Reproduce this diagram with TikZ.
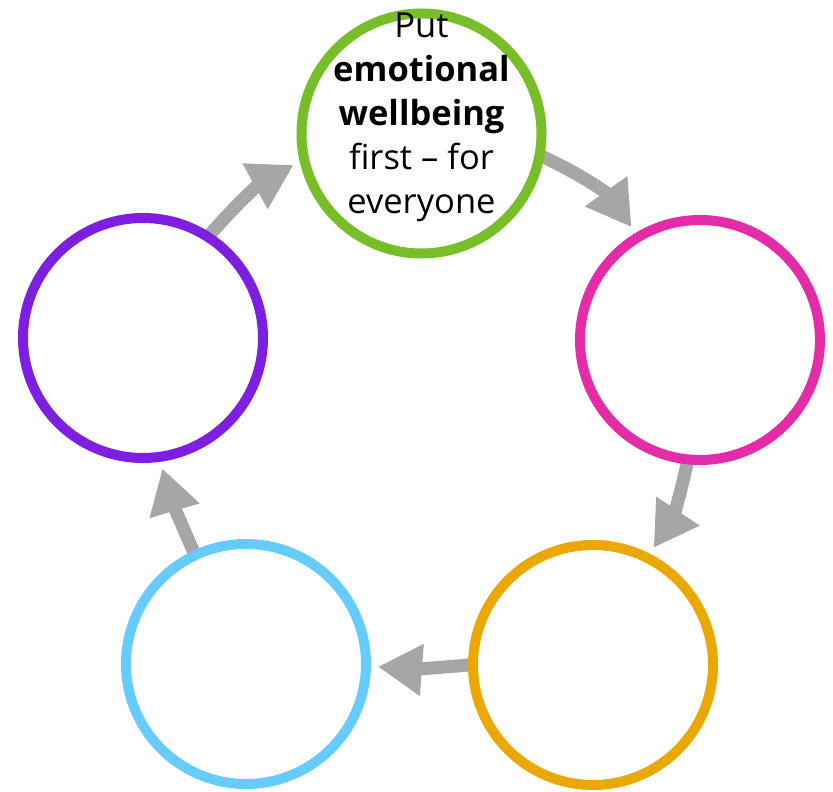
\documentclass[tikz,border=0pt]{standalone}
\usepackage{fontspec}
\setmainfont{Open Sans}
\usetikzlibrary{arrows.meta,backgrounds}

\definecolor{ringgreen}{RGB}{120,190,40}
\definecolor{ringpink}{RGB}{228,44,168}
\definecolor{ringorange}{RGB}{234,168,0}
\definecolor{ringblue}{RGB}{102,204,255}
\definecolor{ringpurple}{RGB}{125,30,225}
\definecolor{flowgray}{RGB}{166,166,166}

\tikzset{
  ring/.style={circle, draw=#1, line width=10pt, fill=white,
               minimum size=240pt, inner sep=0pt},
  flow/.style={draw=flowgray, line width=13pt, shorten <=-7pt, shorten >=7pt,
               -{Triangle[length=44pt,width=49pt]}},
  label/.style={align=center, inner sep=0pt,
                font=\fontsize{34.5}{44}\selectfont}
}

\begin{document}
\begin{tikzpicture}[x=1pt,y=1pt]
  \useasboundingbox (0,0) rectangle (833,792);

  % the five rings, filled white so the arrow tails tuck under them
  \node[ring=ringgreen]  (green)  at (421.5,658.5) {};
  \node[ring=ringpink]   (pink)   at (700,452)     {};
  \node[ring=ringorange] (orange) at (593,127)     {};
  \node[ring=ringblue]   (blue)   at (246,128)     {};
  \node[ring=ringpurple] (purple) at (143,454)     {};

  % curved arrows running clockwise round the cycle, behind the rings
  \begin{scope}[on background layer]
    \draw[flow] (green.-11)  to[bend left=15] (pink.121);
    \draw[flow] (pink.-96)   to[bend left=11] (orange.63);
    \draw[flow] (orange.180) to[bend left=5]  (blue.-1);
    \draw[flow] (blue.115)   to[bend left=4]  (purple.-82);
    \draw[flow] (purple.57)  to[bend left=10] (green.-167);
  \end{scope}

  \node[label] (caption) at (421.5,675)
    {Put\\ \textbf{emotional}\\ \textbf{wellbeing}\\ first – for\\ everyone};
\end{tikzpicture}
\end{document}
